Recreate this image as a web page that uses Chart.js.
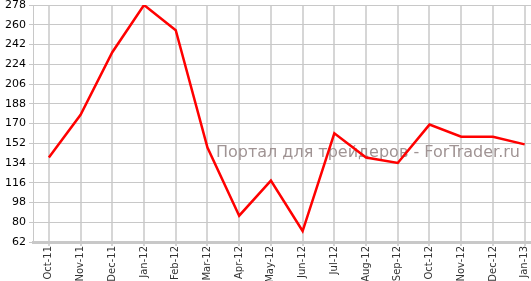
<!DOCTYPE html>
<html>
<head>
    <style>
        body { margin: 0; padding: 0; background: #fff; }
        #wrap { width: 531px; height: 281px; }
    </style>
</head>
<body>
    <div id="wrap"><canvas id="priceChart"></canvas></div>
    <script src="https://cdn.jsdelivr.net/npm/chart.js"></script>
    <script>
const months = ["Oct-11","Nov-11","Dec-11","Jan-12","Feb-12","Mar-12","Apr-12","May-12","Jun-12","Jul-12","Aug-12","Sep-12","Oct-12","Nov-12","Dec-12","Jan-13"];
const values = [139, 178, 235, 278, 255, 148, 86, 118, 72, 161, 139, 134, 169, 158, 158, 151];
const yTicks = [62, 80, 98, 116, 134, 152, 170, 188, 206, 224, 242, 260, 278];
const watermark = "Портал для трейдеров - ForTrader.ru";

// watermark text under the line
const watermarkPlugin = {
    id: 'watermark',
    beforeDatasetsDraw(chart) {
        const ctx = chart.ctx;
        ctx.save();
        ctx.font = '16px "DejaVu Sans"';
        ctx.fillStyle = '#a09494';
        ctx.textAlign = 'right';
        ctx.textBaseline = 'alphabetic';
        ctx.fillText(watermark, 520, 157);
        ctx.restore();
    }
};

new Chart(document.getElementById('priceChart'), {
    type: 'line',
    data: {
        datasets: [{
            data: values.map((v, i) => ({ x: i, y: v })),
            borderColor: '#ff0000',
            borderWidth: 2.5,
            pointRadius: 0,
            tension: 0
        }]
    },
    options: {
        responsive: true,
        maintainAspectRatio: false,
        animation: false,
        layout: { padding: { top: 5, right: 0, left: 0, bottom: 0 } },
        plugins: { legend: { display: false }, tooltip: { enabled: false } },
        scales: {
            x: {
                type: 'linear',
                min: -0.5,
                max: 15.2,
                afterBuildTicks: (scale) => {
                    scale.ticks = months.map((m, i) => ({ value: i }));
                },
                afterFit: (scale) => {
                    scale.height = 39;
                    scale.paddingLeft = 0;
                    scale.paddingRight = 0;
                },
                ticks: {
                    autoSkip: false,
                    maxRotation: 90,
                    minRotation: 90,
                    color: '#333',
                    font: { family: 'DejaVu Sans', size: 10 },
                    padding: 0,
                    callback: (v) => months[v]
                },
                grid: { color: '#d6d6d6', lineWidth: 2, tickLength: 4 },
                border: { color: '#c8c8c8', width: 3 }
            },
            y: {
                min: 62,
                max: 278,
                afterBuildTicks: (scale) => {
                    scale.ticks = yTicks.map(v => ({ value: v }));
                },
                afterFit: (scale) => {
                    scale.width = 33;
                    scale.paddingTop = 0;
                    scale.paddingBottom = 0;
                },
                ticks: {
                    color: '#000',
                    font: { family: 'DejaVu Sans', size: 11 },
                    padding: 3
                },
                grid: { color: '#c8c8c8', lineWidth: 1, tickLength: 4 },
                border: { color: '#c8c8c8', width: 1 }
            }
        }
    },
    plugins: [watermarkPlugin]
});
    </script>
</body>
</html>
